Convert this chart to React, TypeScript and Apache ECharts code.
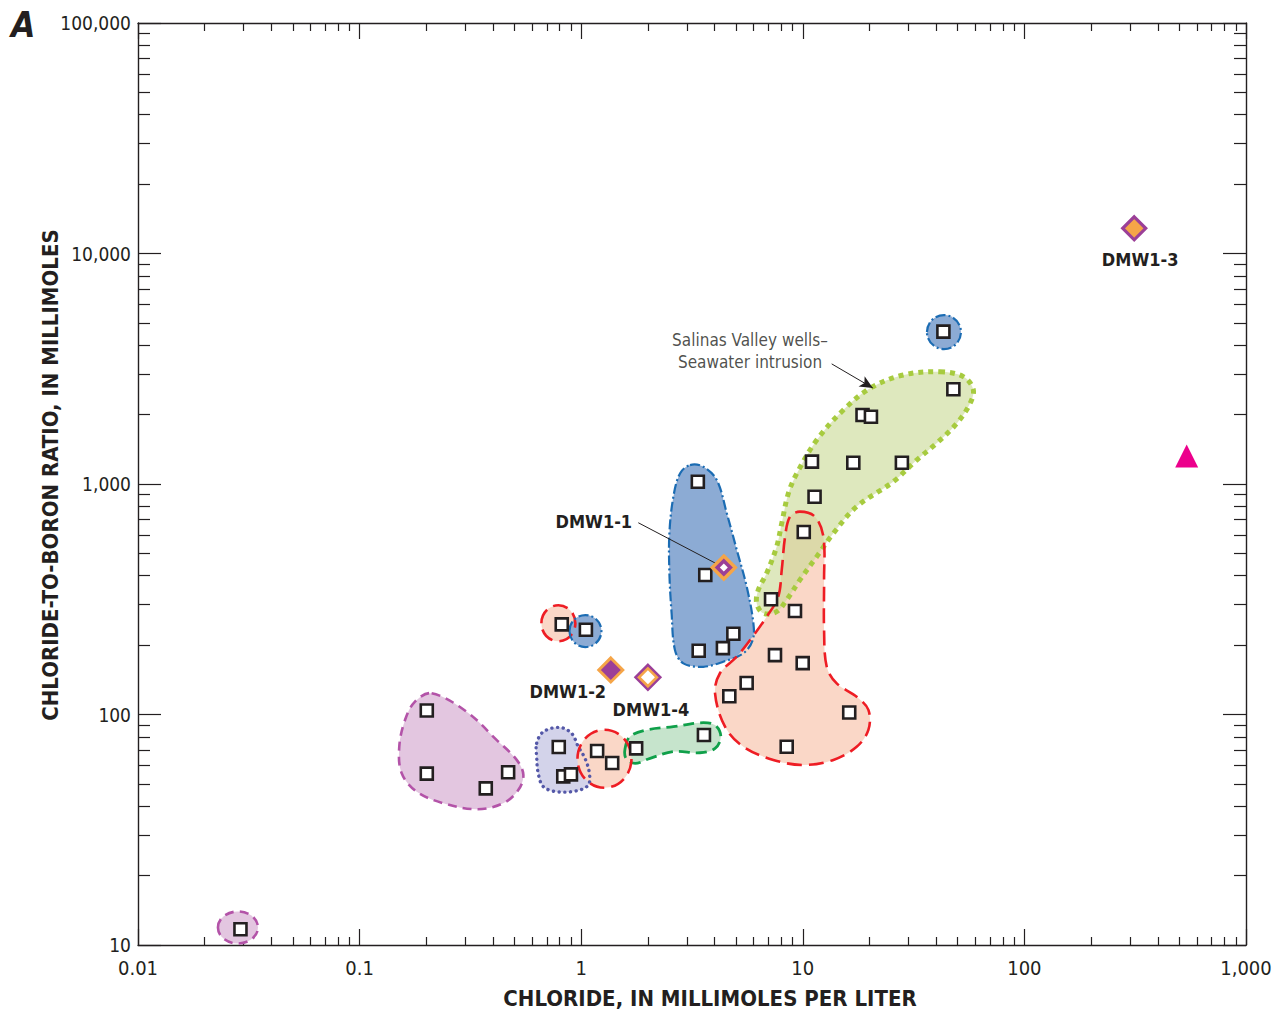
import React, { useEffect, useRef } from "react";
import * as echarts from "echarts";

const FONT = "'Liberation Sans Narrow', 'DejaVu Sans Condensed', 'Roboto Condensed', 'Liberation Sans', sans-serif";
const INK = "#231F20";

// ---- axis tick labels (one per decade) ----
const xTickLabels = ["0.01", "0.1", "1", "10", "100", "1,000"]; // 10^-2 .. 10^3
const yTickLabels = ["10", "100", "1,000", "10,000", "100,000"]; // 10^1 .. 10^5

// ---- samples (open squares) ----
const sampleChloride = [0.029, 0.201, 0.201, 0.371, 0.468, 0.792, 0.83, 0.899, 1.18, 1.38, 1.77, 3.58, 3.36, 3.63, 0.817, 1.05, 3.39, 4.36, 4.86, 11.0, 11.3, 10.1, 7.19, 9.22, 7.49, 9.99, 5.58, 4.66, 16.2, 8.46, 43.1, 47.8, 18.6, 20.3, 16.9, 28.0];
const sampleRatio = [11.7, 104, 55.4, 47.8, 56.2, 72.3, 53.9, 55.0, 69.4, 61.6, 71.3, 81.5, 1023, 403, 246, 233, 189, 194, 224, 1250, 881, 619, 316, 281, 181, 167, 137, 120, 102, 72.5, 4580, 2575, 1992, 1959, 1237, 1237];

// ---- monitoring wells (diamonds) ----
const wellNames = ["DMW1-1", "DMW1-2", "DMW1-3", "DMW1-4"];
const wellChloride = [4.4, 1.36, 313, 2.0];
const wellRatio = [434, 156, 12860, 145];

// ---- seawater (triangle) ----
const seawaterChloride = [540];
const seawaterRatio = [1323];

// ---- annotation anchors (data units) ----
const noteText = "Salinas Valley wells–\nSeawater intrusion";
const noteAt = [5.78, 3780];
const arrowFrom = [13.5, 3320];
const arrowTo = [20.7, 2610];
const leaderFrom = [1.81, 679];

// ---- group outlines, vertices in log10(chloride), log10(ratio) ----
const purpleOutlineLog = [[-0.675, 2.092], [-0.517, 2.012], [-0.381, 1.889], [-0.291, 1.803], [-0.261, 1.738], [-0.284, 1.672], [-0.352, 1.615], [-0.472, 1.589], [-0.622, 1.615], [-0.742, 1.665], [-0.81, 1.745], [-0.821, 1.86], [-0.795, 1.976], [-0.75, 2.056]];
const lavenderOutlineLog = [[-0.201, 1.875], [-0.171, 1.925], [-0.096, 1.944], [-0.043, 1.918], [-0.013, 1.86], [0.017, 1.81], [0.037, 1.745], [0.032, 1.694], [-0.02, 1.669], [-0.111, 1.665], [-0.171, 1.687], [-0.194, 1.745], [-0.201, 1.817]];
const greenOutlineLog = [[0.198, 1.853], [0.22, 1.904], [0.296, 1.933], [0.416, 1.947], [0.536, 1.964], [0.604, 1.954], [0.63, 1.904], [0.604, 1.853], [0.536, 1.834], [0.416, 1.839], [0.311, 1.81], [0.243, 1.788], [0.202, 1.81]];
const blueOutlineLog = [[0.491, 3.082], [0.551, 3.075], [0.612, 3.017], [0.657, 2.873], [0.702, 2.714], [0.747, 2.554], [0.777, 2.396], [0.774, 2.323], [0.732, 2.266], [0.641, 2.229], [0.551, 2.207], [0.461, 2.222], [0.423, 2.28], [0.408, 2.439], [0.398, 2.613], [0.398, 2.786], [0.416, 2.945], [0.446, 3.046]];
const seawaterOutlineLog = [[1.619, 3.487], [1.724, 3.466], [1.769, 3.411], [1.755, 3.35], [1.695, 3.263], [1.604, 3.177], [1.514, 3.104], [1.408, 3.01], [1.243, 2.902], [1.138, 2.786], [1.063, 2.685], [0.987, 2.584], [0.927, 2.497], [0.882, 2.446], [0.822, 2.439], [0.792, 2.482], [0.799, 2.54], [0.837, 2.613], [0.882, 2.728], [0.905, 2.83], [0.935, 2.96], [0.973, 3.046], [1.063, 3.191], [1.183, 3.321], [1.303, 3.415], [1.454, 3.473]];
const redOutlineLog = [[0.987, 2.88], [1.055, 2.858], [1.093, 2.771], [1.096, 2.584], [1.096, 2.367], [1.108, 2.207], [1.153, 2.135], [1.243, 2.077], [1.296, 2.02], [1.296, 1.933], [1.243, 1.86], [1.138, 1.803], [1.002, 1.781], [0.867, 1.803], [0.732, 1.86], [0.649, 1.947], [0.604, 2.092], [0.626, 2.179], [0.702, 2.251], [0.762, 2.323], [0.837, 2.424], [0.889, 2.511], [0.905, 2.627], [0.92, 2.771], [0.942, 2.858]];

// small circled groups: centers in log10 units
const circleCentersLog = [[-1.549, 1.076], [-0.103, 2.396], [0.019, 2.362], [1.637, 3.659], [0.105, 1.808]];
const circleKinds = ["purple", "red", "blue", "blue", "red"];

// ---- styles ----
const STYLES: Record<string, any> = {
  purple: { fill: "#E3C6E0", stroke: "#B353A8", lineWidth: 2.6, lineDash: [9, 6] },
  lavender: { fill: "#D3D3EA", stroke: "#5458A8", lineWidth: 3.4, lineDash: [0.1, 5.6], lineCap: "round" },
  green: { fill: "#C6E4CC", stroke: "#10A04A", lineWidth: 2.8, lineDash: [11, 6] },
  blue: { fill: "#8CABD4", stroke: "#1B6CB3", lineWidth: 2.2, lineDash: [10, 3, 2, 3] },
  seawater: { fill: "#C9DA96", fillOpacity: 0.62, stroke: "#A7CB3F", lineWidth: 5, lineDash: [5, 5] },
  red: { fill: "#FAD7C7", stroke: "#EE1D24", lineWidth: 2.6, lineDash: [15, 7] },
};
const CIRCLE_R: number[][] = [[20, 16], [17, 18], [16, 16], [17, 17], [27, 29]];

const pow = (p: number[]) => [Math.pow(10, p[0]), Math.pow(10, p[1])];

function outlineSeries(name: string, outline: number[][], kind: string, pass: "fill" | "stroke") {
  const st = STYLES[kind];
  return {
    type: "custom",
    name: name + "-" + pass,
    silent: true,
    z: pass === "fill" ? (kind === "seawater" ? 2 : 1) : 3,
    data: outline.map(pow),
    renderItem: (params: any, api: any) => {
      if (params.dataIndex !== 0) return null;
      const points = outline.map((p) => api.coord(pow(p)));
      const style =
        pass === "fill"
          ? { fill: st.fill, opacity: st.fillOpacity ?? 1, stroke: null }
          : { fill: null, stroke: st.stroke, lineWidth: st.lineWidth, lineDash: st.lineDash, lineCap: st.lineCap || "butt" };
      return { type: "polygon", shape: { points, smooth: 0.35 }, style };
    },
  };
}

function circleSeries(pass: "fill" | "stroke") {
  return {
    type: "custom",
    name: "circles-" + pass,
    silent: true,
    z: pass === "fill" ? 1 : 3,
    data: circleCentersLog.map(pow),
    renderItem: (params: any, api: any) => {
      const i = params.dataIndex;
      const st = STYLES[circleKinds[i]];
      const c = api.coord(pow(circleCentersLog[i]));
      const style =
        pass === "fill"
          ? { fill: st.fill, stroke: null }
          : { fill: null, stroke: st.stroke, lineWidth: st.lineWidth, lineDash: st.lineDash };
      return { type: "ellipse", shape: { cx: c[0], cy: c[1], rx: CIRCLE_R[i][0], ry: CIRCLE_R[i][1] }, style };
    },
  };
}

function axisBase(kind: "x" | "y", pos: string, main: boolean) {
  const isX = kind === "x";
  const labels = isX ? xTickLabels : yTickLabels;
  const offset = isX ? 2 : -1;
  return {
    type: "log",
    logBase: 10,
    min: isX ? 0.01 : 10,
    max: isX ? 1000 : 100000,
    position: pos,
    axisLine: { show: true, onZero: false, lineStyle: { color: INK, width: 1.4 } },
    axisTick: { show: true, inside: true, length: isX ? 16 : 23, lineStyle: { color: INK, width: 1.2 } },
    minorTick: { show: true, splitNumber: 9, length: isX ? 8 : 12, lineStyle: { color: INK, width: 1.2 } },
    splitLine: { show: false },
    minorSplitLine: { show: false },
    axisLabel: {
      show: main,
      color: INK,
      fontFamily: FONT,
      fontSize: isX ? 20 : 19,
      margin: isX ? 13 : 7,
      formatter: (v: number) => labels[Math.round(Math.log10(v)) + offset],
    },
    name: main ? (isX ? "CHLORIDE, IN MILLIMOLES PER LITER" : "CHLORIDE-TO-BORON RATIO, IN MILLIMOLES") : "",
    nameLocation: "middle",
    nameMoveOverlap: false,
    nameGap: isX ? 42 : 77,
    nameTextStyle: {
      color: INK,
      fontFamily: FONT,
      fontWeight: "bold",
      fontSize: 22,
      padding: isX ? [0, 0, 0, 36] : [0, 0, 0, 18],
    },
  };
}

function wellSeries(i: number, size: number, fill: string, border: string | null, bw: number, withLabel: boolean, off: number[]) {
  return {
    type: "scatter",
    name: wellNames[i] + (withLabel ? "" : "-core"),
    symbol: "diamond",
    symbolSize: size,
    z: withLabel ? 10 : 11,
    data: [[wellChloride[i], wellRatio[i]]],
    itemStyle: { color: fill, borderColor: border || fill, borderWidth: bw, opacity: 1 },
    label: withLabel
      ? { show: true, position: "inside", offset: off, formatter: wellNames[i], color: INK, fontFamily: FONT, fontWeight: "bold", fontSize: 18 }
      : { show: false },
  };
}

const PURPLE = "#9B3F98";
const ORANGE = "#F5A548";

export default function App() {
  const ref = useRef<HTMLDivElement>(null);
  useEffect(() => {
    if (!ref.current) return;
    const chart = echarts.init(ref.current, null, { renderer: "svg" });
    const arrowLine = { color: INK, width: 1, type: "solid", curveness: 0.35 };
    const option: any = {
      animation: false,
      textStyle: { fontFamily: FONT },
      grid: { left: 138, right: 36, top: 23, bottom: 70 },
      xAxis: [axisBase("x", "bottom", true), axisBase("x", "top", false)],
      yAxis: [axisBase("y", "left", true), axisBase("y", "right", false)],
      graphic: [
        { type: "text", left: 11, top: 7, style: { text: "A", fill: INK, font: "italic bold 35px " + FONT } },
      ],
      series: [
        outlineSeries("purple", purpleOutlineLog, "purple", "fill"),
        outlineSeries("lavender", lavenderOutlineLog, "lavender", "fill"),
        outlineSeries("green", greenOutlineLog, "green", "fill"),
        outlineSeries("blue", blueOutlineLog, "blue", "fill"),
        outlineSeries("red", redOutlineLog, "red", "fill"),
        outlineSeries("seawater", seawaterOutlineLog, "seawater", "fill"),
        circleSeries("fill"),
        outlineSeries("purple", purpleOutlineLog, "purple", "stroke"),
        outlineSeries("lavender", lavenderOutlineLog, "lavender", "stroke"),
        outlineSeries("green", greenOutlineLog, "green", "stroke"),
        outlineSeries("blue", blueOutlineLog, "blue", "stroke"),
        outlineSeries("seawater", seawaterOutlineLog, "seawater", "stroke"),
        outlineSeries("red", redOutlineLog, "red", "stroke"),
        circleSeries("stroke"),
        {
          type: "scatter",
          name: "annotations",
          symbolSize: 0,
          z: 5,
          silent: true,
          data: [noteAt],
          label: { show: true, position: "inside", formatter: noteText, color: INK, fontFamily: FONT, fontSize: 17, lineHeight: 22, align: "center" },
          markLine: {
            silent: true,
            animation: false,
            symbol: ["none", "none"],
            label: { show: false },
            lineStyle: { color: INK, width: 1, type: "solid" },
            data: [
              [{ coord: leaderFrom }, { coord: [wellChloride[0], wellRatio[0]] }],
              [
                { coord: arrowFrom, symbol: "none", lineStyle: arrowLine },
                { coord: arrowTo, symbol: "arrow", symbolSize: [9, 13], lineStyle: arrowLine },
              ],
            ],
          },
        },
        {
          type: "scatter",
          name: "samples",
          symbol: "rect",
          symbolSize: 12,
          z: 8,
          data: sampleChloride.map((x, i) => [x, sampleRatio[i]]),
          itemStyle: { color: "#FFFFFF", borderColor: INK, borderWidth: 2.6, opacity: 1 },
        },
        wellSeries(0, 23, PURPLE, ORANGE, 3.4, true, [-130, -46]),
        wellSeries(0, 8, "#FFFFFF", null, 0, false, [0, 0]),
        wellSeries(1, 24, PURPLE, ORANGE, 3, true, [-43, 22]),
        wellSeries(2, 23, ORANGE, PURPLE, 3.2, true, [6, 31]),
        wellSeries(3, 25, ORANGE, PURPLE, 2.4, true, [3, 32]),
        wellSeries(3, 14, "#FFFFFF", null, 0, false, [0, 0]),
        {
          type: "scatter",
          name: "seawater",
          symbol: "triangle",
          symbolSize: 23,
          z: 8,
          data: seawaterChloride.map((x, i) => [x, seawaterRatio[i]]),
          itemStyle: { color: "#EC008C", opacity: 1 },
        },
      ],
    };
    chart.setOption(option);
    return () => chart.dispose();
  }, []);
  return <div ref={ref} style={{ position: "fixed", left: 0, top: 0, width: 1282, height: 1015, background: "#fff" }} />;
}
